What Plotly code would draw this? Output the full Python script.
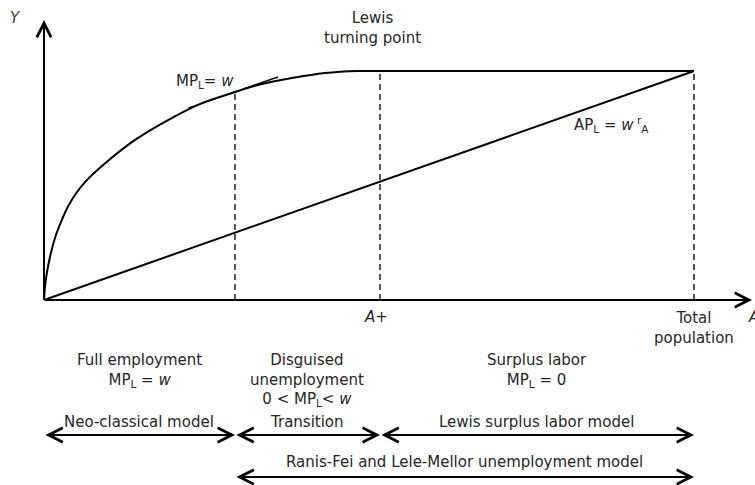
import plotly.graph_objects as go

W, H = 755, 485

# ---- conceptual data (labor as % of total population, output as % of maximum) ----
curve_x = [0, 0.15, 0.46, 0.92, 1.69, 2.62, 3.69, 4.92, 6.31, 8.92, 14.0, 19.08, 24.31, 29.38,
           32.92, 38.15, 43.23, 48.31, 51.69, 100]
curve_y = [0, 5.7, 12.2, 18.8, 27.1, 34.1, 40.8, 46.5, 51.5, 58.5, 69.9, 78.6, 86.0, 90.8,
           93.9, 96.9, 99.1, 100, 100, 100]
ap_x = [0, 100]
ap_y = [0, 100]
tangent_x = [22.2, 36.0]
tangent_y = [83.8, 97.4]
dashed_x = [29.38, 51.69, 100]      # MP_L = w point, A+ (Lewis turning point), total population
dashed_top = [90.8, 100, 100]

region_labels = ["Full employment<br>MP<sub>L</sub> = <i>w</i>",
                 "Disguised<br>unemployment<br>0 < MP<sub>L</sub>< <i>w</i>",
                 "Surplus labor<br>MP<sub>L</sub> = 0"]
region_start = [0, 29.38, 51.69]
region_end = [29.38, 51.69, 100]

span_labels = ["Neo-classical model", "Transition", "Lewis surplus labor model",
               "Ranis-Fei and Lele-Mellor unemployment model"]
span_start = [0, 29.38, 51.69, 29.38]
span_end = [29.38, 51.69, 100, 100]
span_row = [0, 0, 0, 1]

# ---- pixel <-> data helpers for placement ----
X0, XU = 44, 6.5
Y0, YU = 300, 2.29
def X(px):
    return (px - X0) / XU
def Y(py):
    return (Y0 - py) / YU

FONT = "DejaVu Sans"
TC = "#262626"

fig = go.Figure()
line_kw = dict(mode="lines", hoverinfo="skip", showlegend=False)
fig.add_trace(go.Scatter(x=curve_x, y=curve_y, line=dict(color="black", width=2, shape="spline", smoothing=0.9), **line_kw))
fig.add_trace(go.Scatter(x=ap_x, y=ap_y, line=dict(color="black", width=2), **line_kw))
fig.add_trace(go.Scatter(x=tangent_x, y=tangent_y, line=dict(color="black", width=1.5), **line_kw))
for dx, dt in zip(dashed_x, dashed_top):
    fig.add_trace(go.Scatter(x=[dx, dx], y=[0, dt], line=dict(color="#3a3a3a", width=1.7, dash="6px,4px"), **line_kw))

ann = []
arrow_kw = dict(text="", showarrow=True, axref="x", ayref="y", xref="x", yref="y",
                arrowhead=5, arrowsize=1.4, arrowwidth=2, arrowcolor="black", standoff=0, startstandoff=0)
# axes
ann.append(dict(x=0, y=Y(20), ax=0, ay=0, **arrow_kw))
ann.append(dict(x=X(752), y=0, ax=0, ay=0, **arrow_kw))

# span arrows
row_py = [435, 477]
label_py = [422, 462]
for lab, s, e, r in zip(span_labels, span_start, span_end, span_row):
    ann.append(dict(x=e, y=Y(row_py[r]), ax=s, ay=Y(row_py[r]), arrowside="end+start",
                    startarrowhead=5, startarrowsize=1.4, **arrow_kw))
    ann.append(dict(x=(s + e) / 2, y=Y(label_py[r]), text=lab, showarrow=False, xref="x", yref="y",
                    xanchor="center", yanchor="middle", font=dict(family=FONT, size=15, color=TC)))

# region labels
for lab, s, e in zip(region_labels, region_start, region_end):
    ann.append(dict(x=(s + e) / 2, y=Y(349), text=lab, showarrow=False, xref="x", yref="y",
                    xanchor="center", yanchor="top", align="center",
                    font=dict(family=FONT, size=15, color=TC)))

txt = dict(showarrow=False, xref="x", yref="y", font=dict(family=FONT, size=15, color=TC))
ann.append(dict(x=X(372), y=Y(28), text="Lewis<br>turning point", xanchor="center", yanchor="middle", **txt))
ann.append(dict(x=X(205), y=Y(81), text="MP<sub>L</sub>= <i>w</i>", xanchor="center", yanchor="middle", **txt))
ann.append(dict(x=X(572), y=Y(124), text="AP<sub>L</sub> = <i>w</i><sup> r</sup><sub>A</sub>", xanchor="left", yanchor="middle", **txt))
ann.append(dict(x=X(376), y=Y(317), text="<i>A+</i>", xanchor="center", yanchor="middle", **txt))
ann.append(dict(x=dashed_x[2], y=Y(328), text="Total<br>population", xanchor="center", yanchor="middle", **txt))
ann.append(dict(x=X(746), y=Y(317), text="<i>A</i>", xanchor="left", yanchor="middle", **txt))
ann.append(dict(x=X(15), y=Y(18), text="<i>Y</i>", xanchor="center", yanchor="middle",
                showarrow=False, xref="x", yref="y", font=dict(family=FONT, size=15, color="#444")))

fig.update_layout(
    width=W, height=H, margin=dict(l=0, r=0, t=0, b=0),
    paper_bgcolor="white", plot_bgcolor="white",
    xaxis=dict(range=[X(0), X(W)], visible=False, fixedrange=True),
    yaxis=dict(range=[Y(H), Y(0)], visible=False, fixedrange=True),
    annotations=ann, showlegend=False,
)
fig.write_html("out.html", config={"displayModeBar": False},
               post_script="document.body.style.margin='0';document.body.style.overflow='hidden';")
